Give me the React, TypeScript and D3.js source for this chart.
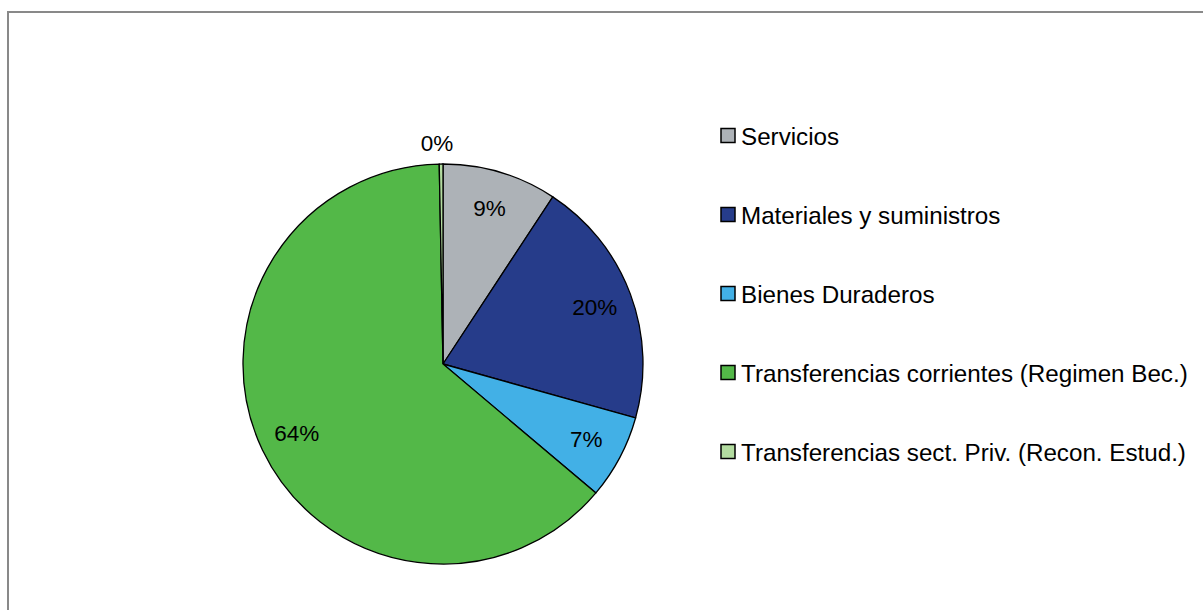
import React from "react";
import * as d3 from "d3";

const categories = [
  "Servicios",
  "Materiales y suministros",
  "Bienes Duraderos",
  "Transferencias corrientes (Regimen Bec.)",
  "Transferencias sect. Priv. (Recon. Estud.)",
];
const values = [9.25, 20.1, 6.8, 63.55, 0.3];
const labels = ["9%", "20%", "7%", "64%", "0%"];
const colors = ["#ADB2B7", "#263C8A", "#42B0E6", "#53B848", "#B3DCA0"];

export default function App() {
  const W = 1203;
  const H = 610;
  const cx = 443;
  const cy = 364;
  const r = 200;
  const pie = d3.pie<number>().sort(null).value((d) => d);
  const arcs = pie(values);
  const arcGen = d3.arc<d3.PieArcDatum<number>>().innerRadius(0).outerRadius(r);
  const font = "'Liberation Sans', Arial, sans-serif";
  return (
    <svg
      width={W}
      height={H}
      style={{ position: "absolute", left: 0, top: 0, background: "#fff" }}
      fontFamily={font}
    >
      <rect x={8} y={12} width={1300} height={700} fill="#fff" stroke="#898989" strokeWidth={2} />
      <g transform={`translate(${cx},${cy})`}>
        {arcs.map((a, i) => (
          <path key={i} d={arcGen(a) || ""} fill={colors[i]} stroke="#000" strokeWidth={1.3} />
        ))}
        {arcs.map((a, i) => {
          const mid = (a.startAngle + a.endAngle) / 2;
          const small = i === 4;
          const rr = small ? 221 : 162;
          const x = Math.sin(mid) * rr - (small ? 4 : 0);
          const y = -Math.cos(mid) * rr;
          return (
            <text
              key={"l" + i}
              x={x}
              y={y}
              textAnchor="middle"
              dominantBaseline="central"
              fontSize={22.5}
              fill="#000"
            >
              {labels[i]}
            </text>
          );
        })}
      </g>
      {categories.map((c, i) => {
        const y = 136 + i * 79;
        return (
          <g key={"g" + i}>
            <rect x={721} y={y - 7.5} width={14} height={14} fill={colors[i]} stroke="#000" strokeWidth={1.5} />
            <text x={741} y={y} dominantBaseline="central" fontSize={24.2} fill="#000">
              {c}
            </text>
          </g>
        );
      })}
    </svg>
  );
}
